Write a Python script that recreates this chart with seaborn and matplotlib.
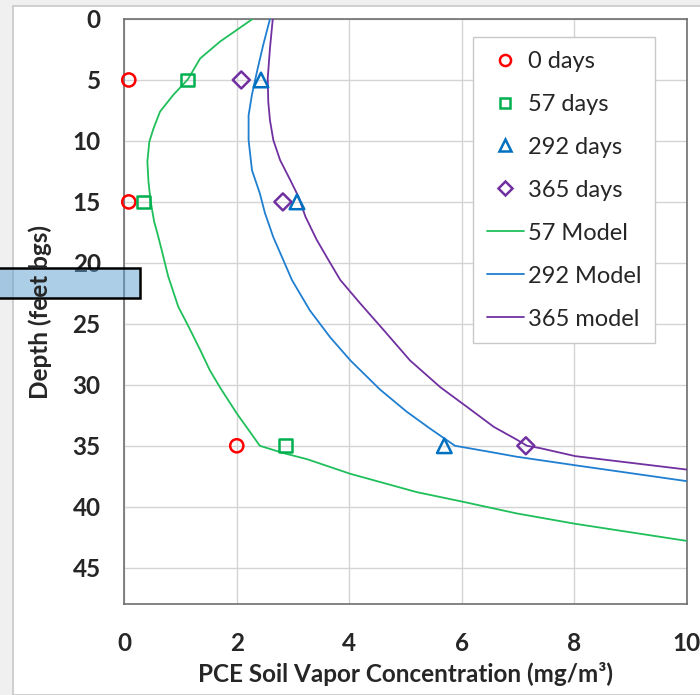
import matplotlib
matplotlib.use("Agg")
import matplotlib.pyplot as plt
from matplotlib.patches import Rectangle
from matplotlib.lines import Line2D
import seaborn as sns
import pandas as pd

# ---- data ----
depth_obs = [5, 15, 35]
obs_0 = [0.08, 0.08, 2.0]
obs_57 = [1.13, 0.34, 2.86]
obs_292 = [2.43, 3.07, 5.69]
obs_365 = [2.08, 2.82, 7.14]

m57_x = [2.28, 1.70, 1.35, 1.13, 0.87, 0.635, 0.52, 0.445, 0.41, 0.43, 0.47, 0.53, 0.59, 0.665, 0.78,
         0.96, 1.14, 1.35, 1.52, 1.70, 2.0, 2.21, 2.41, 2.83, 3.25, 4.02, 5.20, 6.03, 6.98, 8.02, 10.0]
m57_y = [0, 1.86, 3.23, 4.95, 6.23, 7.6, 8.97, 10.06, 11.7, 13.35, 15.0, 16.6, 17.6, 18.95, 21.1,
         23.6, 25.2, 27.15, 28.8, 30.2, 32.35, 33.7, 35.0, 35.6, 36.1, 37.3, 38.8, 39.6, 40.55, 41.4, 42.8]

m292_x = [2.59, 2.47, 2.36, 2.27, 2.21, 2.21, 2.27, 2.41, 2.50, 2.65, 2.83, 2.98, 3.30,
          3.66, 4.02, 4.55, 5.02, 5.44, 5.88, 6.50, 6.98, 8.02, 10.0]
m292_y = [0, 2.13, 4.3, 6.2, 7.9, 9.93, 12.4, 14.3, 15.9, 17.9, 19.8, 21.4, 23.9,
          26.1, 28.0, 30.4, 32.2, 33.6, 35.0, 35.5, 35.9, 36.6, 37.9]

m365_x = [2.64, 2.59, 2.55, 2.56, 2.59, 2.65, 2.77, 2.95, 3.10, 3.22, 3.42, 3.66, 3.84, 4.19, 4.61, 5.08,
          5.62, 6.09, 6.57, 6.98, 7.16, 7.40, 8.02, 10.0]
m365_y = [0, 2.4, 4.9, 6.8, 8.3, 9.93, 11.57, 13.2, 14.6, 16.2, 18.1, 20.0, 21.4, 23.3, 25.5, 28.0,
          30.2, 31.8, 33.45, 34.5, 35.0, 35.2, 35.85, 36.95]

x_ticks = [0, 2, 4, 6, 8, 10]
y_ticks = [0, 5, 10, 15, 20, 25, 30, 35, 40, 45]

RED = "#ff0000"
GREEN = "#00b050"
BLUE = "#0070c0"
PURPLE = "#7030a0"
LGREEN = "#1fbf5a"
LBLUE = "#1f7fd0"

sns.set_style("white")
plt.rcParams["font.family"] = ["Lato", "DejaVu Sans"]

FS = 17.5

fig = plt.figure(figsize=(7.0, 6.95), dpi=100, facecolor="#f0f0f0")
# white chart area
fig.patches.append(Rectangle((13 / 700, 0), 1, 1 - 6 / 695, transform=fig.transFigure,
                             facecolor="white", edgecolor="#c8c8c8", linewidth=1.2, zorder=-1))

ax = fig.add_axes([124.3 / 700, 1 - 604.3 / 695, 562.4 / 700, 585.3 / 695])
ax.set_facecolor("white")

# model lines
for xs, ys, c in [(m57_x, m57_y, LGREEN), (m292_x, m292_y, LBLUE), (m365_x, m365_y, PURPLE)]:
    df = pd.DataFrame({"x": xs, "y": ys})
    sns.lineplot(data=df, x="x", y="y", sort=False, estimator=None, color=c,
                 linewidth=1.3, ax=ax, zorder=3)

# observations
obs = [(obs_0, RED, "o", 90), (obs_57, GREEN, "s", 85),
       (obs_292, BLUE, "^", 110), (obs_365, PURPLE, "D", 75)]
for xs, c, m, s in obs:
    sns.scatterplot(x=xs, y=depth_obs, marker=m, s=s, facecolor="none",
                    edgecolor=c, linewidth=1.8, ax=ax, zorder=4, clip_on=False)

ax.set_xlim(0, 10)
ax.set_ylim(48, 0)
ax.set_xticks(x_ticks)
ax.set_yticks(y_ticks)
ax.set_xticklabels([str(v) for v in x_ticks], fontsize=FS, fontweight="bold")
ax.set_yticklabels([str(v) for v in y_ticks], fontsize=FS, fontweight="bold")
ax.tick_params(axis="x", length=0, pad=20)
ax.tick_params(axis="y", length=0, pad=17)
ax.grid(True, color="#d4d4d4", linewidth=1.0)
ax.set_axisbelow(True)
for sp in ax.spines.values():
    sp.set_visible(True)
    sp.set_color("#6e6e6e")
    sp.set_linewidth(1.2)

ax.set_xlabel("PCE Soil Vapor Concentration (mg/m³)", fontsize=FS, fontweight="bold", labelpad=5)
ax.set_ylabel("")

# legend
handles = [
    Line2D([], [], linestyle="none", marker="o", markersize=8, markerfacecolor="none", markeredgecolor=RED, markeredgewidth=1.8),
    Line2D([], [], linestyle="none", marker="s", markersize=7.5, markerfacecolor="none", markeredgecolor=GREEN, markeredgewidth=1.8),
    Line2D([], [], linestyle="none", marker="^", markersize=8.5, markerfacecolor="none", markeredgecolor=BLUE, markeredgewidth=1.8),
    Line2D([], [], linestyle="none", marker="D", markersize=7, markerfacecolor="none", markeredgecolor=PURPLE, markeredgewidth=1.8),
    Line2D([], [], color=LGREEN, linewidth=1.3),
    Line2D([], [], color=LBLUE, linewidth=1.3),
    Line2D([], [], color=PURPLE, linewidth=1.3),
]
labels = ["0 days", "57 days", "292 days", "365 days", "57 Model", "292 Model", "365 model"]
leg = ax.legend(handles, labels, loc="upper right", bbox_to_anchor=(0.9437, 0.969),
                borderaxespad=0, fancybox=False, frameon=True, fontsize=17,
                handlelength=1.57, handletextpad=0.17, labelspacing=0.93,
                borderpad=0.58, framealpha=1)
leg.get_frame().set_edgecolor("#c8c8c8")
leg.get_frame().set_linewidth(1.0)
leg.set_zorder(10)

# overlay box
fig.patches.append(Rectangle((-0.01, 1 - 298 / 695), 140 / 700 + 0.01, 30 / 695, transform=fig.transFigure,
                             facecolor=(0.36, 0.62, 0.82), alpha=0.5, edgecolor="none", zorder=5))
fig.patches.append(Rectangle((-0.01, 1 - 298 / 695), 140 / 700 + 0.01, 30 / 695, transform=fig.transFigure,
                             facecolor="none", edgecolor="black", linewidth=1.8, zorder=6))

fig.text(40 / 700, 1 - 312 / 695, "Depth (feet bgs)", rotation=90, ha="center", va="center",
         fontsize=FS, fontweight="bold", zorder=7)

fig.savefig("out.png", dpi=100, facecolor=fig.get_facecolor())
